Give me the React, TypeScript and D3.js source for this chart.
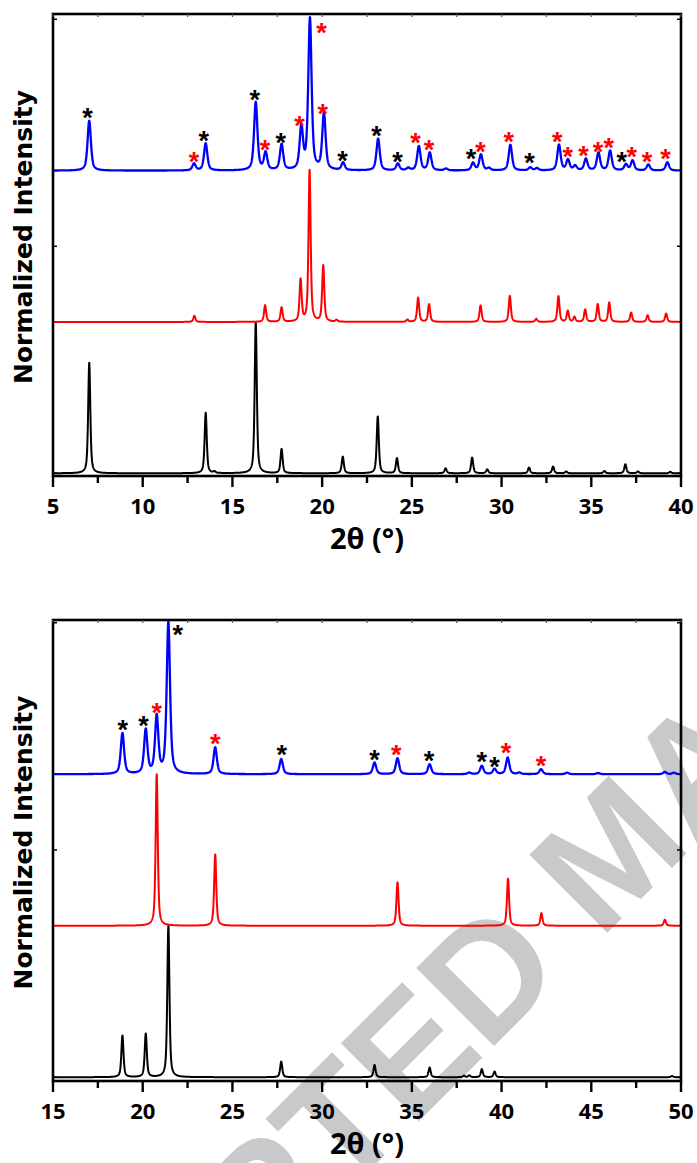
import React from 'react';
import * as d3 from 'd3';

// ---------- DATA (peak position 2θ, normalized height) ----------
const topXTicks = [5, 10, 15, 20, 25, 30, 35, 40];
const bottomXTicks = [15, 20, 25, 30, 35, 40, 45, 50];

const topBlackPeaks: [number, number][] = [
  [7.02, 0.73], [13.51, 0.4], [14.0, 0.01], [16.3, 1.0], [17.74, 0.16], [21.15, 0.11],
  [23.1, 0.375], [24.17, 0.1], [26.88, 0.033], [28.36, 0.104], [29.2, 0.026], [31.53, 0.038],
  [32.87, 0.044], [33.6, 0.012], [35.73, 0.015], [36.9, 0.06], [37.6, 0.012], [39.4, 0.01],
];
const topRedPeaks: [number, number][] = [
  [12.88, 0.04], [16.82, 0.11], [17.74, 0.095], [18.8, 0.276], [19.3, 1.0], [20.06, 0.37],
  [20.8, 0.012], [24.75, 0.015], [25.35, 0.16], [25.96, 0.117], [28.83, 0.11], [30.46, 0.172],
  [31.93, 0.02], [33.17, 0.17], [33.69, 0.073], [34.06, 0.033], [34.66, 0.082], [35.36, 0.117],
  [36.0, 0.128], [37.22, 0.062], [38.14, 0.044], [39.17, 0.055],
];
const topBluePeaks: [number, number][] = [
  [7.02, 0.33], [12.86, 0.045], [13.51, 0.18], [16.3, 0.45], [16.85, 0.115], [17.74, 0.17],
  [18.84, 0.28], [19.32, 1.0], [20.1, 0.375], [21.17, 0.05], [23.12, 0.21], [24.22, 0.045],
  [24.8, 0.015], [25.39, 0.16], [26.0, 0.117], [26.9, 0.012], [28.41, 0.05], [28.85, 0.105],
  [29.3, 0.015], [30.49, 0.17], [31.6, 0.02], [31.97, 0.015], [33.2, 0.17], [33.7, 0.07],
  [34.1, 0.03], [34.7, 0.077], [35.4, 0.117], [36.05, 0.13], [36.93, 0.04], [37.3, 0.066],
  [38.18, 0.04], [39.24, 0.055],
];
// star markers: 2θ, height above blue baseline, phase it belongs to
const topStars: [number, number, 'k' | 'r'][] = [
  [6.93, 0.39, 'k'], [12.86, 0.1, 'r'], [13.4, 0.24, 'k'], [16.24, 0.51, 'k'], [16.81, 0.18, 'r'],
  [17.69, 0.225, 'k'], [18.74, 0.34, 'r'], [19.97, 0.95, 'r'], [20.03, 0.42, 'r'], [21.14, 0.106, 'k'],
  [23.03, 0.27, 'k'], [24.2, 0.1, 'k'], [25.2, 0.225, 'r'], [25.96, 0.18, 'r'], [28.3, 0.12, 'k'],
  [28.83, 0.165, 'r'], [30.4, 0.23, 'r'], [31.56, 0.093, 'k'], [33.1, 0.23, 'r'], [33.69, 0.13, 'r'],
  [34.57, 0.14, 'r'], [35.37, 0.165, 'r'], [35.98, 0.19, 'r'], [36.7, 0.1, 'k'], [37.25, 0.13, 'r'],
  [38.1, 0.1, 'r'], [39.13, 0.12, 'r'],
];

const bottomBlackPeaks: [number, number][] = [
  [18.87, 0.275], [20.17, 0.286], [21.43, 1.0], [27.72, 0.103], [32.92, 0.081], [35.99, 0.064],
  [37.9, 0.01], [38.2, 0.012], [38.9, 0.053], [39.61, 0.037], [49.5, 0.008],
];
const bottomRedPeaks: [number, number][] = [
  [20.78, 1.0], [24.04, 0.47], [34.2, 0.286], [40.36, 0.31], [42.22, 0.083], [49.1, 0.04],
];
const bottomBluePeaks: [number, number][] = [
  [18.87, 0.27], [20.17, 0.29], [20.78, 0.376], [21.43, 1.0], [24.04, 0.177], [27.72, 0.1],
  [32.92, 0.077], [34.2, 0.106], [35.99, 0.066], [38.2, 0.01], [38.9, 0.055], [39.61, 0.035],
  [40.34, 0.11], [40.99, 0.01], [42.2, 0.033], [43.65, 0.01], [45.38, 0.008], [49.1, 0.015],
  [49.6, 0.01],
];
const bottomStars: [number, number, 'k' | 'r'][] = [
  [18.89, 0.336, 'k'], [20.04, 0.358, 'k'], [20.78, 0.446, 'r'], [21.96, 0.964, 'k'],
  [24.04, 0.243, 'r'], [27.75, 0.17, 'k'], [32.92, 0.14, 'k'], [34.13, 0.17, 'r'],
  [35.96, 0.13, 'k'], [38.9, 0.126, 'k'], [39.6, 0.093, 'k'], [40.25, 0.185, 'r'], [42.2, 0.1, 'r'],
];

const yLabel = 'Normalized Intensity';
const xLabel = '2θ (°)';
const watermark = 'ACCEPTED MANUSCRIPT';

// ---------- helpers ----------
function profile(peaks: [number, number][], domain: [number, number], hwhm: number): [number, number][] {
  const samples = d3.range(domain[0], domain[1] + 0.0001, 0.01);
  return samples.map((t) => {
    let v = 0;
    for (const [c, h] of peaks) {
      const d = (t - c) / hwhm;
      v += h * (0.6 / (1 + d * d) + 0.4 * Math.exp(-Math.LN2 * d * d));
    }
    return [t, v];
  });
}

const TICK_FONT = "'Open Sans', 'Liberation Sans', sans-serif";

interface PanelProps {
  xDomain: [number, number];
  ticks: number[];
  top: number;
  bottom: number;
  yDomain: [number, number];
  series: { peaks: [number, number][]; offset: number; color: string; hw: number; sw: number }[];
  stars: [number, number, 'k' | 'r'][];
  starOffset: number;
}

function Panel(p: PanelProps) {
  const left = 53;
  const right = 681;
  const x = d3.scaleLinear().domain(p.xDomain).range([left, right]);
  const y = d3.scaleLinear().domain(p.yDomain).range([p.bottom, p.top]);
  const minor = d3.range(p.xDomain[0], p.xDomain[1] + 0.001, 2.5);
  const yTicks = [0, 1.5, 3];
  const line = d3
    .line<[number, number]>()
    .x((d) => x(d[0]))
    .y((d) => y(d[1]));
  const midX = (left + right) / 2;
  return (
    <g>
      {p.series.map((s, i) => (
        <path
          key={i}
          d={line(profile(s.peaks, p.xDomain, s.hw).map((d) => [d[0], d[1] + s.offset] as [number, number])) || ''}
          fill="none"
          stroke={s.color}
          strokeWidth={s.sw}
          strokeLinejoin="round"
        />
      ))}
      {p.stars.map(([t, lv, ph], i) => (
        <text
          key={i}
          x={x(t)}
          y={y(p.starOffset + lv) + 15.5}
          textAnchor="middle"
          fontFamily="'Liberation Sans', Arial, sans-serif"
          fontWeight="bold"
          fontSize={27}
          fill={ph === 'r' ? '#ff0000' : '#000000'}
        >
          *
        </text>
      ))}
      {/* frame */}
      <rect x={left} y={p.top} width={right - left} height={p.bottom - p.top} fill="none" stroke="#000" strokeWidth={2.6} />
      {/* bottom ticks outward */}
      {minor.map((t, i) => {
        const major = Math.abs(t / 5 - Math.round(t / 5)) < 1e-6;
        return (
          <g key={i}>
            <line x1={x(t)} x2={x(t)} y1={p.bottom} y2={p.bottom + (major ? 11 : 7)} stroke="#000" strokeWidth={2.4} />
            <line x1={x(t)} x2={x(t)} y1={p.top} y2={p.top + 3} stroke="#555" strokeWidth={1.2} />
          </g>
        );
      })}
      {yTicks.map((v, i) => (
        <g key={i}>
          <line x1={left} x2={left + 4} y1={y(v)} y2={y(v)} stroke="#000" strokeWidth={1.5} />
          <line x1={right} x2={right - 4} y1={y(v)} y2={y(v)} stroke="#000" strokeWidth={1.5} />
        </g>
      ))}
      {p.ticks.map((t) => (
        <text
          key={t}
          x={x(t)}
          y={p.bottom + 38}
          textAnchor="middle"
          fontFamily={TICK_FONT}
          fontWeight={700}
          fontSize={22}
          fill="#000"
        >
          {t}
        </text>
      ))}
      <text x={midX} y={p.bottom + 73} textAnchor="middle" fontFamily={TICK_FONT} fontWeight={700} fontSize={29} fill="#000">
        {xLabel}
      </text>
      <text
        transform={`translate(23, ${(p.top + p.bottom) / 2 - 8}) rotate(-90)`}
        textAnchor="middle"
        dominantBaseline="central"
        fontFamily="'DejaVu Sans', Verdana, sans-serif"
        fontWeight="bold"
        fontSize={25}
        fill="#000"
      >
        {yLabel}
      </text>
    </g>
  );
}

export default function App() {
  return (
    <svg
      width={697}
      height={1163}
      viewBox="0 0 697 1163"
      style={{ position: 'absolute', left: 0, top: 0, display: 'block', background: '#fff' }}
    >
      <rect x={0} y={0} width={697} height={1163} fill="#fff" />
      <defs>
        <clipPath id="wmclip">
          <rect x={0} y={600} width={697} height={563} />
        </clipPath>
      </defs>
      <g clipPath="url(#wmclip)">
        <text
          transform="translate(-54,1594) rotate(-45)"
          fontFamily="'Liberation Sans', Arial, sans-serif"
          fontWeight="bold"
          fontSize={160}
          fill="#c8c9cb"
        >
          {watermark}
        </text>
      </g>
      <Panel
        xDomain={[5, 40]}
        ticks={topXTicks}
        top={14}
        bottom={476}
        yDomain={[-0.018, 3.035]}
        series={[
          { peaks: topBlackPeaks, offset: 0, color: '#000000', hw: 0.07, sw: 2 },
          { peaks: topRedPeaks, offset: 1, color: '#ff0000', hw: 0.07, sw: 2 },
          { peaks: topBluePeaks, offset: 2, color: '#0000ff', hw: 0.11, sw: 2.3 },
        ]}
        stars={topStars}
        starOffset={2}
      />
      <Panel
        xDomain={[15, 50]}
        ticks={bottomXTicks}
        top={620}
        bottom={1081}
        yDomain={[-0.025, 3.018]}
        series={[
          { peaks: bottomBlackPeaks, offset: 0, color: '#000000', hw: 0.07, sw: 2 },
          { peaks: bottomRedPeaks, offset: 1, color: '#ff0000', hw: 0.07, sw: 2 },
          { peaks: bottomBluePeaks, offset: 2, color: '#0000ff', hw: 0.11, sw: 2.3 },
        ]}
        stars={bottomStars}
        starOffset={2}
      />
    </svg>
  );
}
